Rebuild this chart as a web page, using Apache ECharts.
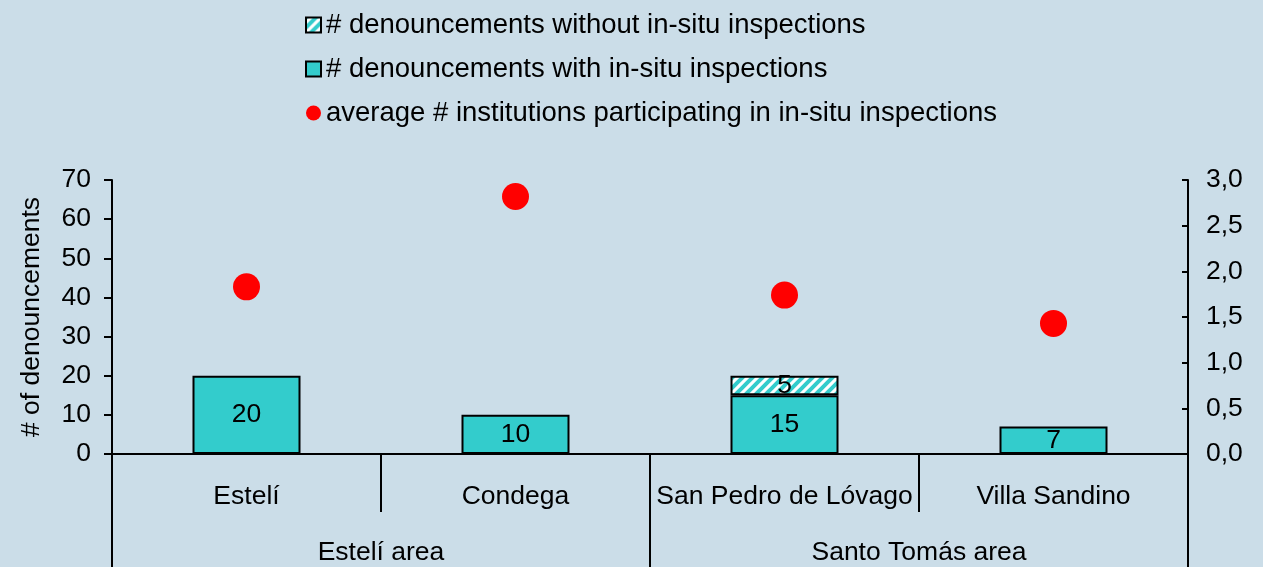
<!DOCTYPE html>
<html>
<head>
<meta charset="utf-8">
<script src="https://cdn.jsdelivr.net/npm/echarts@6/dist/echarts.min.js"></script>
<style>
  html, body { margin: 0; padding: 0; background: #cbdde8; }
  #chart { width: 1263px; height: 567px; }
</style>
</head>
<body>
<div id="chart"></div>
<script>
var municipalities = ["Estelí", "Condega", "San Pedro de Lóvago", "Villa Sandino"];
var areas = ["Estelí area", "Santo Tomás area"];
var withInspections = [20, 10, 15, 7];
var withoutInspections = [null, null, 5, null];
var avgInstitutions = [1.83, 2.82, 1.74, 1.43];

var teal = "#33cccc";
var font = "Liberation Sans, Arial, sans-serif";

// hatched fill for the "without" bars
function makeHatch() {
  var s = 10;
  var c = document.createElement("canvas");
  c.width = s; c.height = s;
  var ctx = c.getContext("2d");
  ctx.fillStyle = "#ffffff";
  ctx.fillRect(0, 0, s, s);
  ctx.strokeStyle = teal;
  ctx.lineWidth = 4;
  ctx.beginPath();
  ctx.moveTo(0, s); ctx.lineTo(s, 0);
  ctx.moveTo(-3, 3); ctx.lineTo(3, -3);
  ctx.moveTo(s - 3, s + 3); ctx.lineTo(s + 3, s - 3);
  ctx.stroke();
  return c;
}

var myChart = echarts.init(document.getElementById("chart"));
myChart.setOption({
  backgroundColor: "#cbdde8",
  textStyle: { fontFamily: font, color: "#000" },
  legend: {
    orient: "vertical",
    left: 300,
    top: 6,
    itemGap: 16,
    itemWidth: 15,
    itemHeight: 15,
    textStyle: { fontSize: 27.5, color: "#000", fontFamily: font },
    data: [
      { name: "# denouncements without in-situ inspections", icon: "rect" },
      { name: "# denouncements with in-situ inspections", icon: "rect" },
      { name: "average # institutions participating in in-situ inspections", icon: "circle" }
    ]
  },
  grid: {
    left: 112,
    right: 75,
    top: 180,
    bottom: 113,
    outerBoundsMode: "none"
  },
  xAxis: [
    {
      type: "category",
      data: municipalities,
      position: "bottom",
      axisLine: { lineStyle: { color: "#000", width: 2 } },
      axisTick: { show: true, length: 58, lineStyle: { color: "#000", width: 2 } },
      axisLabel: { fontSize: 26.5, color: "#000", margin: 29, interval: 0 }
    },
    {
      type: "category",
      data: areas,
      position: "bottom",
      axisLine: { show: false },
      axisTick: { show: true, length: 120, lineStyle: { color: "#000", width: 2 } },
      axisLabel: { fontSize: 26.5, color: "#000", margin: 85, interval: 0 }
    }
  ],
  yAxis: [
    {
      type: "value",
      min: 0,
      max: 70,
      interval: 10,
      name: "# of denouncements",
      nameLocation: "middle",
      nameGap: 67,
      nameTextStyle: { fontSize: 26.5, color: "#000" },
      axisLine: { show: true, lineStyle: { color: "#000", width: 2 } },
      axisTick: { show: true, length: 8, lineStyle: { color: "#000", width: 2 } },
      axisLabel: { fontSize: 26.5, color: "#000", margin: 21 },
      splitLine: { show: false }
    },
    {
      type: "value",
      min: 0,
      max: 3,
      interval: 0.5,
      position: "right",
      axisLine: { show: true, lineStyle: { color: "#000", width: 2 } },
      axisTick: { show: true, inside: true, length: 6, lineStyle: { color: "#000", width: 2 } },
      axisLabel: {
        fontSize: 26.5,
        color: "#000",
        margin: 18,
        formatter: function (v) { return v.toFixed(1).replace(".", ","); }
      },
      splitLine: { show: false }
    }
  ],
  series: [
    {
      name: "# denouncements with in-situ inspections",
      type: "bar",
      stack: "d",
      xAxisIndex: 0,
      yAxisIndex: 0,
      barWidth: 108,
      data: withInspections,
      itemStyle: { color: teal, borderColor: "#000", borderWidth: 2 },
      label: { show: true, position: "inside", fontSize: 26.5, color: "#000" }
    },
    {
      name: "# denouncements without in-situ inspections",
      type: "bar",
      stack: "d",
      xAxisIndex: 0,
      yAxisIndex: 0,
      barWidth: 108,
      data: withoutInspections,
      itemStyle: {
        color: { image: makeHatch(), repeat: "repeat" },
        borderColor: "#000",
        borderWidth: 2
      },
      label: { show: true, position: "inside", fontSize: 26.5, color: "#000" }
    },
    {
      name: "average # institutions participating in in-situ inspections",
      type: "scatter",
      xAxisIndex: 0,
      yAxisIndex: 1,
      symbol: "circle",
      symbolSize: 27,
      data: avgInstitutions,
      itemStyle: { color: "#ff0000", opacity: 1 }
    }
  ]
});
window.onresize = myChart.resize;
</script>
</body>
</html>
